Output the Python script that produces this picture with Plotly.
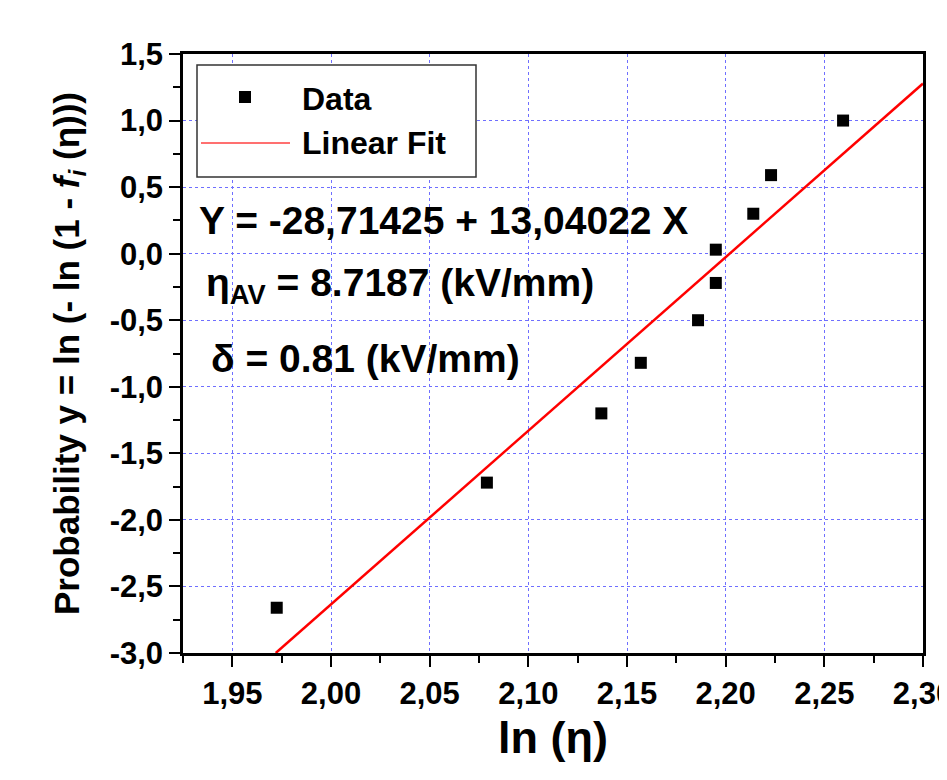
import plotly.graph_objects as go

# Data
data_x = [1.9725, 2.079, 2.137, 2.157, 2.186, 2.195, 2.195, 2.214, 2.223, 2.2595]
data_y = [-2.66, -1.72, -1.20, -0.82, -0.50, -0.22, 0.03, 0.30, 0.59, 1.00]

# Linear fit endpoints (Y = -28,71425 + 13,04022 X)
fit_x = [1.972, 2.30]
fit_y = [-3.0, 1.278]

x_tickvals = [1.95, 2.00, 2.05, 2.10, 2.15, 2.20, 2.25, 2.30]
x_ticktext = ["1,95", "2,00", "2,05", "2,10", "2,15", "2,20", "2,25", "2,30"]
y_tickvals = [-3.0, -2.5, -2.0, -1.5, -1.0, -0.5, 0.0, 0.5, 1.0, 1.5]
y_ticktext = ["-3,0", "-2,5", "-2,0", "-1,5", "-1,0", "-0,5", "0,0", "0,5", "1,0", "1,5"]

FONT = "Liberation Sans, Arial, sans-serif"
GRID = "#6f6fff"

fig = go.Figure()
fig.add_trace(go.Scatter(x=fit_x, y=fit_y, mode="lines",
                         line=dict(color="#ff0000", width=2.5),
                         showlegend=False, name="Linear Fit"))
fig.add_trace(go.Scatter(x=data_x, y=data_y, mode="markers",
                         marker=dict(symbol="square", size=12, color="black"),
                         showlegend=False, name="Data", cliponaxis=False))

axis_common = dict(
    showline=True, linecolor="black", linewidth=2.5, mirror=True,
    ticks="outside", ticklen=11, tickwidth=2, tickcolor="black",
    showgrid=True, gridcolor=GRID, gridwidth=1.3, griddash="dot",
    zeroline=False, ticklabeloverflow="allow",
    tickfont=dict(family=FONT, size=31, color="black", weight="bold"),
)

fig.update_xaxes(range=[1.925, 2.3000001], tickvals=x_tickvals, ticktext=x_ticktext,
                 minor=dict(ticks="outside", ticklen=7, tickwidth=2, tickcolor="black",
                            tickvals=[1.925, 1.975, 2.025, 2.075, 2.125, 2.175, 2.225, 2.275],
                            showgrid=False),
                 title=dict(text="ln (η)", font=dict(family=FONT, size=45, color="black", weight="bold"),
                            standoff=12),
                 **axis_common)
fig.update_yaxes(range=[-3.0, 1.5], tickvals=y_tickvals, ticktext=y_ticktext,
                 minor=dict(ticks="outside", ticklen=7, tickwidth=2, tickcolor="black",
                            tickvals=[-2.75, -2.25, -1.75, -1.25, -0.75, -0.25, 0.25, 0.75, 1.25],
                            showgrid=False),
                 title=dict(text="Probability y = ln (- ln (1 - <i>f</i><sub><i>i</i></sub> (η)))",
                            font=dict(family=FONT, size=35, color="black", weight="bold"),
                            standoff=20),
                 **axis_common)

# page has an 8 px body margin; compensate so the figure lands where the reference is
OFF = 8
W, H = 947 - OFF, 780 - OFF
L, R, T, B = 183 - OFF, 24, 54 - OFF, 127
PW, PH = W - L - R, H - T - B


def px(xp):
    return (xp - OFF - L) / PW


def py(yp):
    return (H - B - (yp - OFF)) / PH


# Manual legend
fig.add_shape(type="rect", xref="paper", yref="paper",
              x0=px(197), x1=px(476), y0=py(177), y1=py(65),
              line=dict(color="#333333", width=1.5), fillcolor="white", layer="above")
fig.add_shape(type="rect", xref="paper", yref="paper",
              x0=px(239), x1=px(251), y0=py(103), y1=py(91),
              line=dict(color="black", width=0), fillcolor="black", layer="above")
fig.add_shape(type="line", xref="paper", yref="paper",
              x0=px(201), x1=px(290), y0=py(143), y1=py(143),
              line=dict(color="#ff4040", width=1.5), layer="above")

ann_font = dict(family=FONT, size=32, color="black", weight="bold")
fig.add_annotation(xref="paper", yref="paper", x=px(300), y=py(99), text="Data",
                   showarrow=False, xanchor="left", yanchor="middle", font=ann_font)
fig.add_annotation(xref="paper", yref="paper", x=px(300), y=py(143), text="Linear Fit",
                   showarrow=False, xanchor="left", yanchor="middle", font=ann_font)

txt_font = dict(family=FONT, size=39, color="black", weight="bold")
fig.add_annotation(xref="paper", yref="paper", x=px(197), y=py(220),
                   text="Y = -28,71425 + 13,04022 X",
                   showarrow=False, xanchor="left", yanchor="middle", font=txt_font)
fig.add_annotation(xref="paper", yref="paper", x=px(204), y=py(285),
                   text="η<sub>AV</sub> = 8.7187 (kV/mm)",
                   showarrow=False, xanchor="left", yanchor="middle", font=txt_font)
fig.add_annotation(xref="paper", yref="paper", x=px(209), y=py(358),
                   text="δ = 0.81 (kV/mm)",
                   showarrow=False, xanchor="left", yanchor="middle", font=txt_font)

fig.update_layout(
    width=W, height=H,
    margin=dict(l=L, r=R, t=T, b=B, autoexpand=False),
    paper_bgcolor="white", plot_bgcolor="white",
    showlegend=False,
    font=dict(family=FONT, color="black"),
)

fig.write_html("out.html")
